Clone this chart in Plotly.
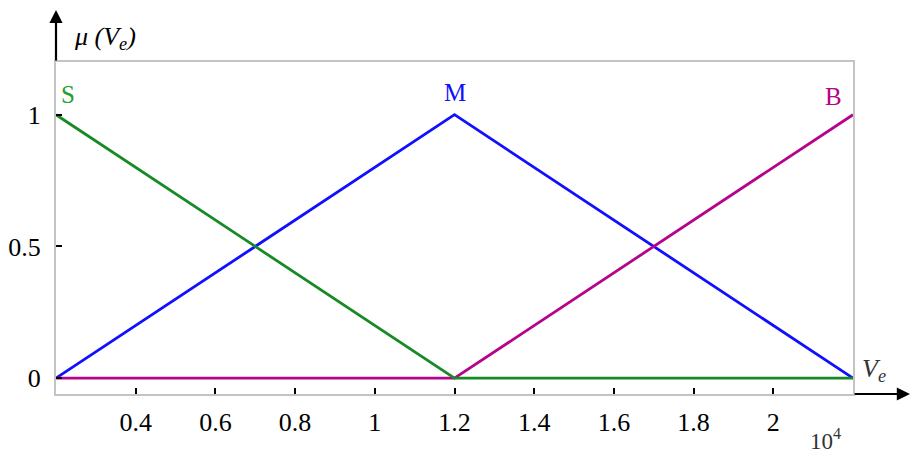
import plotly.graph_objects as go

# membership functions, x in units of 10^4
ve = [0.2, 1.2, 2.2]
mu_s = [1, 0, 0]
mu_m = [0, 1, 0]
mu_b = [0, 0, 1]

x_ticks = [0.4, 0.6, 0.8, 1, 1.2, 1.4, 1.6, 1.8, 2, 2.2]
x_labels = ["0.4", "0.6", "0.8", "1", "1.2", "1.4", "1.6", "1.8", "2", ""]
y_ticks = [0, 0.5, 1]
y_labels = ["0", "0.5", "1"]

GREEN = "#168a25"
BLUE = "#1010ff"
MAGENTA = "#b5048a"
FONT = "Liberation Serif"

fig = go.Figure()
fig.add_trace(go.Scatter(x=ve, y=mu_m, mode="lines", line=dict(color=BLUE, width=2.8)))
fig.add_trace(go.Scatter(x=ve, y=mu_b, mode="lines", line=dict(color=MAGENTA, width=2.8)))
fig.add_trace(go.Scatter(x=ve, y=mu_s, mode="lines", line=dict(color=GREEN, width=2.8)))

# set labels
fig.add_annotation(x=0.2, y=1.075, text="S", showarrow=False, xanchor="left",
                   xshift=3, font=dict(color="#22a030", size=25, family=FONT))
fig.add_annotation(x=1.2, y=1.085, text="M", showarrow=False,
                   font=dict(color=BLUE, size=25, family=FONT))
fig.add_annotation(x=2.15, y=1.07, text="B", showarrow=False,
                   font=dict(color=MAGENTA, size=25, family=FONT))

# axis arrows
fig.add_annotation(x=0, y=1.157, xref="paper", yref="paper", ax=0, ay=52,
                   text="", showarrow=True, arrowhead=2, arrowsize=1.2,
                   arrowwidth=2.2, arrowcolor="black")
fig.add_annotation(x=1.078, y=0, xref="paper", yref="paper", ax=-62, ay=0,
                   text="", showarrow=True, arrowhead=2, arrowsize=1.2,
                   arrowwidth=2.2, arrowcolor="black")

# axis titles
fig.add_annotation(x=0.02, y=1.072, xref="paper", yref="paper", xanchor="left",
                   yanchor="middle", text="<i>μ</i> <i>(V<sub>e</sub>)</i>",
                   showarrow=False, font=dict(size=26, family=FONT, color="black"))
fig.add_annotation(x=1.009, y=0.072, xref="paper", yref="paper", xanchor="left",
                   yanchor="middle", text="<i>V<sub>e</sub></i>", showarrow=False,
                   font=dict(size=26, family=FONT, color="#333333"))
fig.add_annotation(x=0.965, y=-0.138, xref="paper", yref="paper", xanchor="center",
                   yanchor="middle", text="10<sup>4</sup>", showarrow=False,
                   font=dict(size=23, family=FONT, color="#333333"))

fig.update_xaxes(range=[0.2, 2.2], tickvals=x_ticks, ticktext=x_labels,
                 showgrid=False, zeroline=False, showline=True, linecolor="#c4c4c4",
                 linewidth=2, mirror=True, ticks="inside", ticklen=6, tickwidth=2,
                 tickcolor="black", ticklabelstandoff=4, automargin=False,
                 tickfont=dict(size=26, family=FONT, color="black"))
fig.update_yaxes(range=[-0.06, 1.2], tickvals=y_ticks, ticktext=y_labels,
                 showgrid=False, zeroline=False, showline=True, linecolor="#c4c4c4",
                 linewidth=2, mirror=True, ticks="inside", ticklen=6, tickwidth=2,
                 tickcolor="black", ticklabelstandoff=8, automargin=False,
                 tickfont=dict(size=26, family=FONT, color="black"))

# page body adds an 8px offset, so the figure is sized to fit the window
fig.update_layout(width=903, height=450, showlegend=False,
                  margin=dict(l=48, r=58, t=54, b=64),
                  plot_bgcolor="white", paper_bgcolor="white")

fig.write_html("out.html")
